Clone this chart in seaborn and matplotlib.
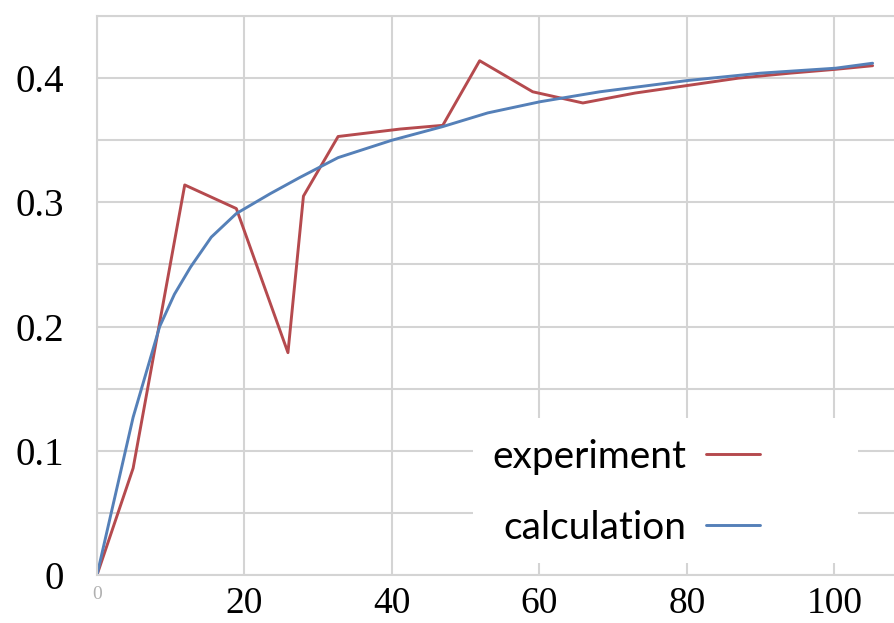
import numpy as np
import pandas as pd
import matplotlib
matplotlib.use("Agg")
import matplotlib.pyplot as plt
from matplotlib.patches import Rectangle
import seaborn as sns

# ---- data ----
exp_x = [0, 4.9, 11.9, 18.9, 25.9, 28.0, 32.7, 41.1, 46.9, 51.9, 59.1, 65.9, 73.0, 80.0, 87.0, 94.0, 100.0, 105.2]
exp_y = [0.0, 0.086, 0.314, 0.295, 0.179, 0.305, 0.353, 0.359, 0.362, 0.414, 0.389, 0.380, 0.388, 0.394, 0.400, 0.404, 0.407, 0.410]

calc_x = [0, 4.9, 8.5, 10.5, 12.7, 15.5, 18.9, 23.5, 27.5, 32.7, 40.0, 46.9, 53.0, 60.1, 68.2, 80.0, 90.0, 100.2, 105.2]
calc_y = [0.0, 0.127, 0.200, 0.226, 0.248, 0.272, 0.291, 0.307, 0.320, 0.336, 0.350, 0.361, 0.372, 0.381, 0.389, 0.398, 0.404, 0.408, 0.412]

x_ticks = [0, 20, 40, 60, 80, 100]
y_ticks = [0, 0.1, 0.2, 0.3, 0.4]
series_names = ["experiment", "calculation"]

df = pd.concat([
    pd.DataFrame({"x": exp_x, "y": exp_y, "series": series_names[0]}),
    pd.DataFrame({"x": calc_x, "y": calc_y, "series": series_names[1]}),
], ignore_index=True)

sns.set_theme(style="white")
plt.rcParams["font.family"] = ["Liberation Serif", "DejaVu Serif"]

fig = plt.figure(figsize=(8.94, 6.23), dpi=100)
ax = fig.add_axes([0.1085, 0.077, 0.8915, 0.8973])

palette = {"experiment": "#B54A4E", "calculation": "#5580B8"}
sns.lineplot(data=df, x="x", y="y", hue="series", palette=palette,
             sort=False, estimator=None, linewidth=2.1, ax=ax, legend=True)

ax.set_xlim(0, 108.1)
ax.set_ylim(0, 0.45)

grid_c = "#d4d4d4"
ax.set_axisbelow(True)
ax.set_yticks(np.arange(0, 0.451, 0.05), minor=True)
ax.set_xticks(x_ticks)
ax.set_yticks(y_ticks)
ax.grid(True, which="major", color=grid_c, linewidth=1.5)
ax.grid(True, which="minor", axis="y", color=grid_c, linewidth=1.5)
ax.tick_params(which="both", length=0, labelcolor="black")

ax.set_xticklabels([str(t) for t in x_ticks], fontsize=27)
ax.set_yticklabels(["0", "0.1", "0.2", "0.3", "0.4"], fontsize=28)
ax.tick_params(axis="y", pad=24)
ax.tick_params(axis="x", pad=8)
lab0 = ax.get_xticklabels()[0]
lab0.set_fontsize(14)
lab0.set_color("#b0b0b0")

ax.spines["right"].set_visible(False)
for s in ["left", "bottom", "top"]:
    ax.spines[s].set_color(grid_c)
    ax.spines[s].set_linewidth(1.5)

ax.set_xlabel("")
ax.set_ylabel("")

# white box behind the legend
ax.add_patch(Rectangle((0.472, 0.0215), 0.483, 0.26, transform=ax.transAxes,
                       facecolor="white", edgecolor="none", zorder=1.5))

handles, labels = ax.get_legend_handles_labels()
leg = ax.legend(handles, labels, loc="center left", bbox_to_anchor=(0.452, 0.148),
                markerfirst=False, frameon=False, handlelength=1.4,
                handletextpad=0.5, labelspacing=0.9,
                prop={"family": ["Lato", "DejaVu Sans"], "size": 28})
for t in leg.get_texts():
    t.set_horizontalalignment("right")
    t.set_color("black")
leg._legend_box.align = "right"

fig.savefig("out.png", dpi=100)
